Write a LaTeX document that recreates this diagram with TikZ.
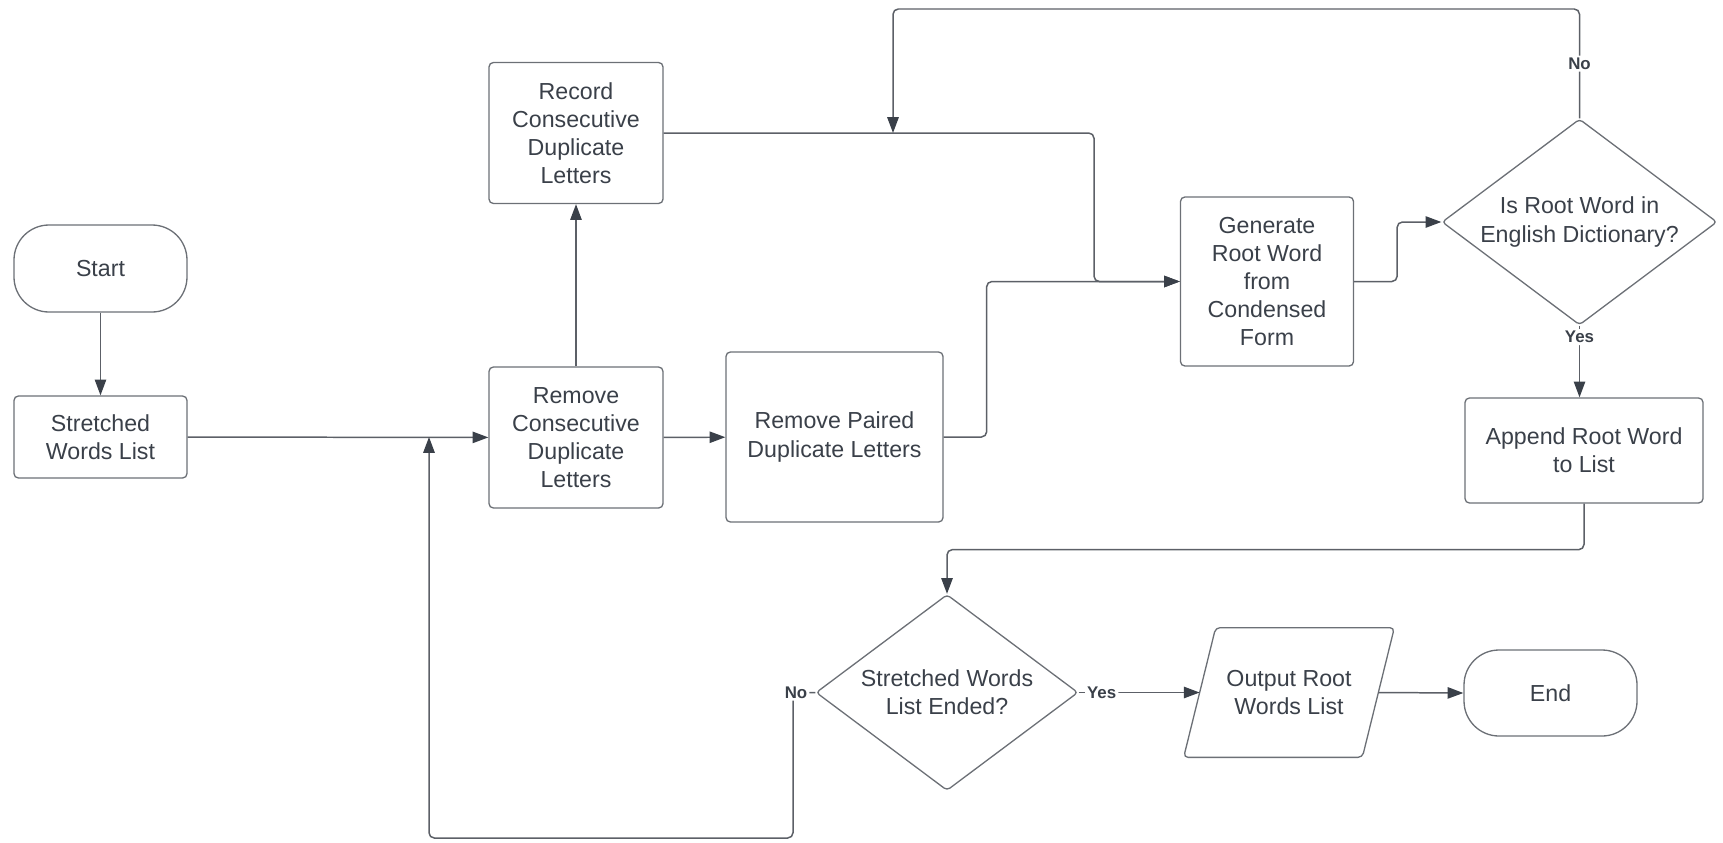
\documentclass[tikz,border=0pt]{standalone}
\usepackage{fontspec}
\setmainfont{Liberation Sans}
\usetikzlibrary{arrows.meta,shapes.geometric}
\definecolor{ink}{HTML}{3A4049}
\definecolor{edge}{HTML}{6C7076}
\definecolor{wire}{HTML}{5C6067}
\begin{document}
\begin{tikzpicture}[x=0.02cm, y=-0.02cm,
  font=\fontsize{13.2}{16}\selectfont,
  box/.style={draw=edge, line width=0.75pt, rounded corners=2.5pt,
    align=center, text=ink, inner sep=0pt},
  term/.style={box, rounded corners=0.7cm},
  decision/.style={diamond, aspect=1.335, draw=edge, line width=0.75pt, rounded corners=2pt,
    align=center, text=ink, inner sep=0pt},
  flow/.style={draw=wire, line width=0.85pt, rounded corners=3pt,
    -{Triangle[length=9pt, width=6.5pt, color=ink]}},
  lbl/.style={font=\bfseries\fontsize{9.6}{11}\selectfont, fill=white,
    text=ink, inner sep=1.2pt}]
\useasboundingbox (0,0) rectangle (1723,842);

% process steps
\node[term, minimum width=173*0.02cm, minimum height=87*0.02cm] (start) at (100.5,268.5) {Start};
\node[box, minimum width=173*0.02cm, minimum height=82*0.02cm] (swl) at (100.5,437) {Stretched\\Words List};
\node[box, minimum width=174*0.02cm, minimum height=141*0.02cm] (rcd) at (576,437.5) {Remove\\Consecutive\\Duplicate\\Letters};
\node[box, minimum width=174*0.02cm, minimum height=141*0.02cm] (rec) at (576,133) {Record\\Consecutive\\Duplicate\\Letters};
\node[box, minimum width=217*0.02cm, minimum height=170*0.02cm] (rpd) at (834.5,437) {Remove Paired\\Duplicate Letters};
\node[box, minimum width=173*0.02cm, minimum height=169*0.02cm] (gen) at (1267,281.5) {Generate\\Root Word\\from\\Condensed\\Form};
\node[decision, minimum width=275*0.02cm, minimum height=206*0.02cm] (dict) at (1579.5,222) {Is Root Word in\\English Dictionary?};
\node[box, minimum width=238*0.02cm, minimum height=105*0.02cm] (app) at (1584,450.5) {Append Root Word\\to List};
\node[decision, minimum width=262*0.02cm, minimum height=196*0.02cm] (ended) at (947,692.5) {Stretched Words\\List Ended?};
\node[align=center, text=ink, inner sep=0pt, minimum width=178*0.02cm, minimum height=129*0.02cm] (out) at (1289,692.5) {Output Root\\Words List};
\draw[draw=edge, line width=0.75pt, rounded corners=2.5pt]
  ([xshift=16*0.02cm]out.north west) -- ([xshift=16*0.02cm]out.north east)
  -- ([xshift=-16*0.02cm]out.south east) -- ([xshift=-16*0.02cm]out.south west) -- cycle;
\node[term, minimum width=173*0.02cm, minimum height=86*0.02cm] (end) at (1550.5,693) {End};

% connectors
\draw[flow] (start) -- (swl);
\draw[flow] (swl) -- (rcd);
\draw[flow] (rcd) -- (rec);
\draw[flow] (rcd) -- (rpd);
\draw[flow] (rpd.east) -- ++(43,0) |- (gen.west);
\draw[flow] (rec.east) -- (1094,133) |- (gen.west);
\draw[flow] (gen.east) -- ++(43,0) |- (dict.west);
\draw[flow] (dict.north) -- node[lbl, pos=0.5]{No} (1579.5,9) -| (893,133);
\draw[flow] (dict.south) -- node[lbl, pos=0.16]{Yes} (dict.south |- app.north);
\draw[flow] (app.south) -- ++(0,46) -| (ended.north);
\draw[flow] (ended.west) -- (793,692.5) node[lbl, xshift=3*0.02cm]{No} -- (793,838) -| (429,437);
\draw[flow] (ended.east) -- node[lbl, pos=0.19]{Yes} (out.west);
\draw[flow] (out.east) -- (end.west);
\end{tikzpicture}
\end{document}
